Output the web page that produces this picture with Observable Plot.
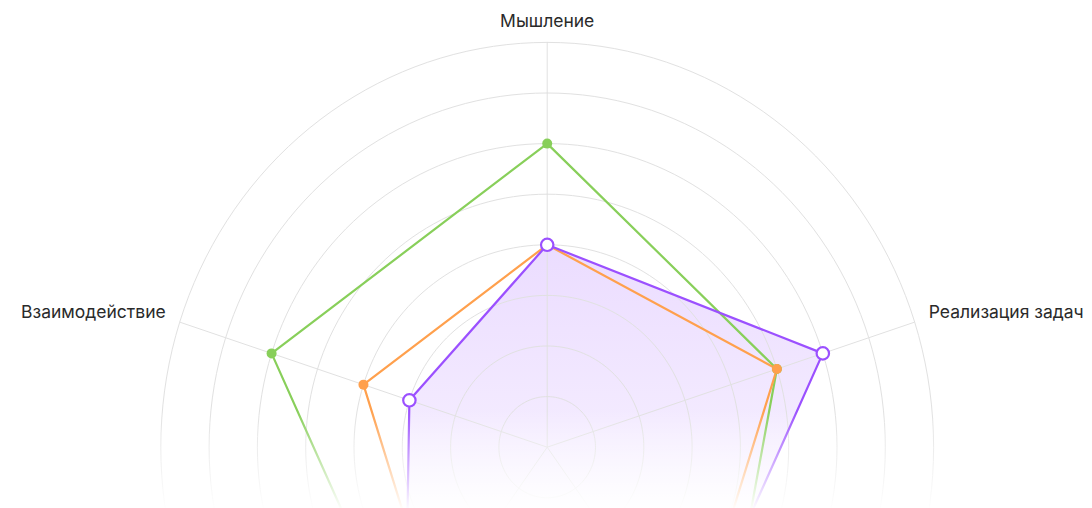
<!DOCTYPE html>
<html>
<head>
<meta charset="utf-8">
<script src="https://cdn.jsdelivr.net/npm/d3@7"></script>
<script src="https://cdn.jsdelivr.net/npm/@observablehq/plot@0.6"></script>
<style>
  html, body { margin: 0; padding: 0; background: #fff; overflow: hidden; }
  #chart { width: 1092px; height: 508px; overflow: hidden; }
</style>
</head>
<body>
<div id="chart"></div>
<script>
// ---- data ----
const axes = ["Мышление", "Реализация задач", "Ответственность", "Развитие", "Взаимодействие"];
const visibleLabels = ["Мышление", "Реализация задач", "Взаимодействие"];
const seriesNames = ["Группа 1", "Группа 2", "Группа 3"];
const greenValues = [6, 5, 6, 5, 6];
const orangeValues = [4, 5, 5, 4, 4];
const purpleValues = [4, 6, 5, 5, 3];
const ringValues = [1, 2, 3, 4, 5, 6, 7, 8];
const maxValue = 8;

const colors = { "Группа 1": "#88cf5a", "Группа 2": "#ffa04d", "Группа 3": "#9b50ff" };

const angleOf = i => i * 2 * Math.PI / axes.length;
function toRows(name, values) {
  return values.map((v, i) => ({
    series: name, axis: axes[i], value: v,
    x: v * Math.sin(angleOf(i)), y: v * Math.cos(angleOf(i))
  }));
}
const green = toRows(seriesNames[0], greenValues);
const orange = toRows(seriesNames[1], orangeValues);
const purple = toRows(seriesNames[2], purpleValues);

const rings = ringValues.flatMap(r => d3.range(0, 361, 2).map(d => ({
  r, x: r * Math.sin(d * Math.PI / 180), y: r * Math.cos(d * Math.PI / 180)
})));
const spokes = axes.map((a, i) => ({
  axis: a, side: Math.abs(Math.sin(angleOf(i))) < 1e-6 ? "middle" : (Math.sin(angleOf(i)) > 0 ? "start" : "end"),
  x: maxValue * Math.sin(angleOf(i)), y: maxValue * Math.cos(angleOf(i))
}));
const labels = spokes.filter(d => visibleLabels.includes(d.axis));
const labelsTop = labels.filter(d => d.side === "middle");
const labelsRight = labels.filter(d => d.side === "start");
const labelsLeft = labels.filter(d => d.side === "end");

const W = 1092, H = 508, cx = 546.7, cy = 446.7, ux = 48.3, uy = 50.6;
const labelStyle = { fontSize: 17.5, fill: "#2a2a2a", letterSpacing: "0.7px" };

const chart = Plot.plot({
  width: W, height: H, margin: 0,
  style: { fontFamily: "Inter, 'Noto Sans', sans-serif", background: "transparent", overflow: "hidden" },
  x: { domain: [-cx / ux, (W - cx) / ux], axis: null },
  y: { domain: [-(H - cy) / uy, cy / uy], axis: null },
  marks: [
    Plot.line(purple, { x: "x", y: "y", curve: "linear-closed", fill: "url(#purpleFill)", stroke: "none" }),
    Plot.line(rings, { x: "x", y: "y", z: "r", stroke: "#e1e1e1", strokeWidth: 1 }),
    Plot.link(spokes, { x1: 0, y1: 0, x2: "x", y2: "y", stroke: "#e1e1e1", strokeWidth: 1 }),
    Plot.line(green, { x: "x", y: "y", curve: "linear-closed", stroke: colors[seriesNames[0]], strokeWidth: 2.2 }),
    Plot.line(orange, { x: "x", y: "y", curve: "linear-closed", stroke: colors[seriesNames[1]], strokeWidth: 2.2 }),
    Plot.line(purple, { x: "x", y: "y", curve: "linear-closed", stroke: colors[seriesNames[2]], strokeWidth: 2.2 }),
    Plot.dot(green, { x: "x", y: "y", r: 5, fill: colors[seriesNames[0]] }),
    Plot.dot(orange, { x: "x", y: "y", r: 5, fill: colors[seriesNames[1]] }),
    Plot.dot(purple, { x: "x", y: "y", r: 6.2, fill: "#fff", stroke: colors[seriesNames[2]], strokeWidth: 2.2 }),
    Plot.text(labelsTop, { x: "x", y: "y", text: "axis", dy: -21, textAnchor: "middle", ...labelStyle }),
    Plot.text(labelsRight, { x: "x", y: "y", text: "axis", dx: 14, dy: -10, textAnchor: "start", ...labelStyle }),
    Plot.text(labelsLeft, { x: "x", y: "y", text: "axis", dx: -14, dy: -10, textAnchor: "end", ...labelStyle })
  ]
});

// gradients
const svg = d3.select(chart);
const defs = svg.insert("defs", ":first-child");
const pg = defs.append("linearGradient").attr("id", "purpleFill")
  .attr("gradientUnits", "userSpaceOnUse").attr("x1", 0).attr("x2", 0).attr("y1", 240).attr("y2", 508);
pg.append("stop").attr("offset", "0%").attr("stop-color", "#9b50ff").attr("stop-opacity", 0.2);
pg.append("stop").attr("offset", "100%").attr("stop-color", "#9b50ff").attr("stop-opacity", 0.08);
const fg = defs.append("linearGradient").attr("id", "fadeOut")
  .attr("gradientUnits", "userSpaceOnUse").attr("x1", 0).attr("x2", 0).attr("y1", 410).attr("y2", 508);
fg.append("stop").attr("offset", "0%").attr("stop-color", "#fff").attr("stop-opacity", 0);
fg.append("stop").attr("offset", "100%").attr("stop-color", "#fff").attr("stop-opacity", 0.97);
svg.append("rect").attr("x", 0).attr("y", 410).attr("width", W).attr("height", H - 410)
  .attr("fill", "url(#fadeOut)");
svg.selectAll("g[aria-label='text']").raise();

document.getElementById("chart").appendChild(chart);
</script>
</body>
</html>
